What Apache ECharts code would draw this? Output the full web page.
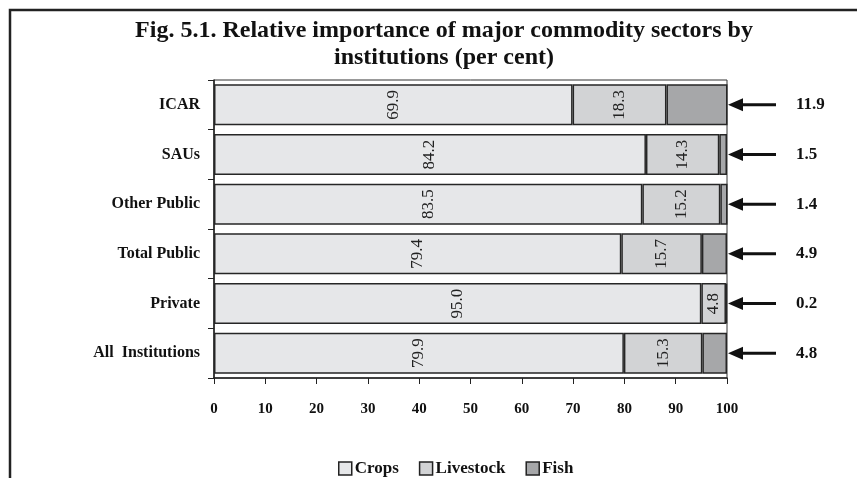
<!DOCTYPE html>
<html><head><meta charset="utf-8">
<script src="https://cdn.jsdelivr.net/npm/echarts@6/dist/echarts.min.js"></script>
<style>html,body{margin:0;padding:0;background:#fff}#c{width:857px;height:478px}</style>
</head><body><div id="c"></div>
<script>
const categories = ['ICAR', 'SAUs', 'Other Public', 'Total Public', 'Private', 'All  Institutions'];
const crops = [69.9, 84.2, 83.5, 79.4, 95.0, 79.9];
const livestock = [18.3, 14.3, 15.2, 15.7, 4.8, 15.3];
const fish = [11.9, 1.5, 1.4, 4.9, 0.2, 4.8];
const xTicks = [0, 10, 20, 30, 40, 50, 60, 70, 80, 90, 100];

const FONT = '"Liberation Serif", "Times New Roman", serif';
const chart = echarts.init(document.getElementById('c'));
const totals = crops.map((c, i) => c + livestock[i] + fish[i]);

const barLabel = {
  show: true, position: 'inside', rotate: 90,
  fontFamily: FONT, fontSize: 17, color: '#222',
  formatter: p => p.value.toFixed(1)
};

chart.setOption({
  backgroundColor: '#fff',
  animation: false,
  title: {
    text: 'Fig. 5.1. Relative importance of major commodity sectors by\ninstitutions (per cent)',
    left: 439, textAlign: 'center', top: 12,
    textStyle: { fontFamily: FONT, fontWeight: 'bold', fontSize: 24, lineHeight: 27, color: '#111' }
  },
  graphic: [{
    type: 'polyline', silent: true,
    shape: { points: [[10, 478], [10, 10], [857, 10]] },
    style: { stroke: '#222', lineWidth: 2.5, fill: null }
  }],
  legend: {
    bottom: 1, left: 338, itemGap: 20, padding: 0,
    itemWidth: 13, itemHeight: 13, icon: 'rect',
    itemStyle: { borderColor: '#222', borderWidth: 1.5 },
    textStyle: { fontFamily: FONT, fontWeight: 'bold', fontSize: 17, color: '#111', padding: [0, 0, 0, -2] },
    data: ['Crops', 'Livestock', 'Fish']
  },
  grid: { left: 214, right: 130, top: 80, bottom: 100, show: true, borderColor: '#333', borderWidth: 1, backgroundColor: 'transparent' },
  xAxis: {
    type: 'value', min: 0, max: 100, interval: 10,
    axisLine: { show: true, lineStyle: { color: '#222', width: 1.5 } },
    axisTick: { show: true, length: 6, lineStyle: { color: '#222' } },
    splitLine: { show: false },
    axisLabel: { margin: 24, fontFamily: FONT, fontWeight: 'bold', fontSize: 15, color: '#111',
      formatter: v => xTicks.includes(v) ? String(v) : '' }
  },
  yAxis: {
    type: 'category', inverse: true, data: categories,
    axisLine: { show: true, lineStyle: { color: '#222', width: 1.5 } },
    axisTick: { show: true, length: 6, lineStyle: { color: '#222' } },
    axisLabel: { margin: 14, fontFamily: FONT, fontWeight: 'bold', fontSize: 16, color: '#111' }
  },
  series: [
    { name: 'Crops', type: 'bar', stack: 's', data: crops, barWidth: 41,
      itemStyle: { color: '#e6e7e9', borderColor: '#262626', borderWidth: 1.5 }, label: barLabel },
    { name: 'Livestock', type: 'bar', stack: 's', data: livestock,
      itemStyle: { color: '#d2d3d5', borderColor: '#262626', borderWidth: 1.5 }, label: barLabel },
    { name: 'Fish', type: 'bar', stack: 's', data: fish,
      itemStyle: { color: '#a6a7a9', borderColor: '#262626', borderWidth: 1.5 }, label: { show: false } },
    { name: 'fishArrows', type: 'custom', clip: false, silent: true,
      data: fish.map((f, i) => [totals[i], i, f]),
      encode: { x: 0, y: 1 },
      renderItem: (params, api) => {
        const idx = api.value(1);
        const pt = api.coord([Math.min(api.value(0), 100), idx]);
        const x0 = pt[0] + 1, y = pt[1];
        return {
          type: 'group',
          children: [
            { type: 'polygon', shape: { points: [[x0, y], [x0 + 15, y - 6.5], [x0 + 15, y + 6.5]] }, style: { fill: '#111' } },
            { type: 'line', shape: { x1: x0 + 12, y1: y, x2: x0 + 48, y2: y }, style: { stroke: '#111', lineWidth: 3 } },
            { type: 'text', style: { text: api.value(2).toFixed(1), x: x0 + 68, y: y, textAlign: 'left', textVerticalAlign: 'middle',
              font: 'bold 17px ' + FONT, fill: '#111' } }
          ]
        };
      }
    }
  ]
});
</script></body></html>
